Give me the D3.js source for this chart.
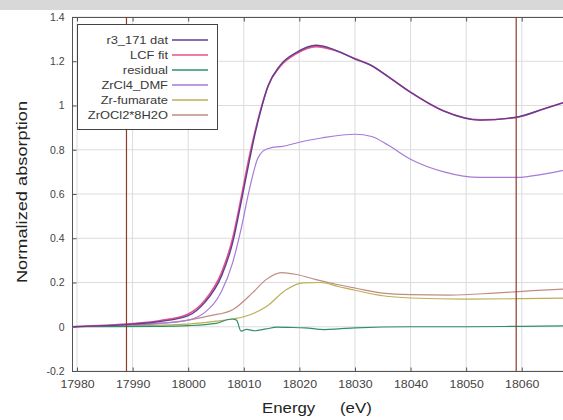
<!DOCTYPE html>
<html>
<head>
<meta charset="utf-8">
<script src="https://cdn.jsdelivr.net/npm/d3@7"></script>
<style>
  html, body { margin: 0; padding: 0; background: #fff; }
  svg { display: block; }
  text { font-family: "Liberation Sans", Arial, sans-serif; }
</style>
</head>
<body>
<svg id="chart" width="563" height="420"></svg>
<script>
// ---------- data ----------
const xTicks = [17980, 17990, 18000, 18010, 18020, 18030, 18040, 18050, 18060];
const yTicks = [-0.2, 0, 0.2, 0.4, 0.6, 0.8, 1, 1.2, 1.4];
const yTickLabels = ["-0.2", "0", "0.2", "0.4", "0.6", "0.8", "1", "1.2", "1.4"];
const markerLines = [17988.9, 18059.0];

const seriesNames = ["r3_171 dat", "LCF fit", "residual", "ZrCl4_DMF", "Zr-fumarate", "ZrOCl2*8H2O"];
const seriesColors = ["#5e3f92", "#e8508c", "#2f9068", "#a77ad8", "#bcae55", "#c08c84"];

const dataE = [17979, 17985, 17990, 17995, 18000, 18003, 18006, 18008, 18009.5, 18011, 18012, 18013.3, 18014.4, 18016.5, 18019.5, 18023, 18026, 18030, 18033, 18036, 18040, 18046, 18052.5, 18059, 18064, 18069];
const dataV = [0.0, 0.005, 0.012, 0.024, 0.05, 0.11, 0.23, 0.38, 0.56, 0.75, 0.87, 1.0, 1.09, 1.18, 1.24, 1.272, 1.255, 1.21, 1.18, 1.13, 1.06, 0.975, 0.934, 0.947, 0.985, 1.025];
const fitV  = [0.0, 0.006, 0.014, 0.028, 0.058, 0.12, 0.245, 0.40, 0.58, 0.77, 0.88, 1.005, 1.09, 1.175, 1.235, 1.266, 1.252, 1.212, 1.18, 1.13, 1.06, 0.975, 0.935, 0.946, 0.985, 1.025];

const zrcl4E = [17979, 17990, 17995, 18000, 18003, 18006, 18008, 18009.5, 18011, 18012.5, 18013.5, 18015, 18017, 18020, 18024, 18030, 18033, 18036, 18040, 18046, 18052.5, 18059, 18064, 18069];
const zrcl4V = [0.0, 0.008, 0.015, 0.03, 0.065, 0.16, 0.29, 0.44, 0.62, 0.76, 0.795, 0.81, 0.815, 0.834, 0.853, 0.87, 0.86, 0.82, 0.757, 0.70, 0.675, 0.675, 0.69, 0.715];

const fumE = [17979, 17990, 18000, 18005, 18008, 18010, 18014, 18017.7, 18020.6, 18023.7, 18027, 18030, 18035, 18040, 18050, 18060, 18069];
const fumV = [0, 0.005, 0.012, 0.025, 0.035, 0.045, 0.09, 0.168, 0.198, 0.2, 0.182, 0.165, 0.14, 0.13, 0.125, 0.127, 0.13];

const zroclE = [17979, 17990, 17995, 18000, 18004, 18008, 18011.6, 18014, 18016.8, 18019.5, 18023, 18027, 18030, 18035, 18040, 18047, 18055, 18062, 18069];
const zroclV = [0, 0.008, 0.015, 0.03, 0.05, 0.077, 0.154, 0.213, 0.245, 0.236, 0.213, 0.19, 0.175, 0.152, 0.145, 0.143, 0.152, 0.163, 0.172];

const resE = [17979, 17995, 18000, 18005, 18007.8, 18008.7, 18009.5, 18010.5, 18012, 18014, 18016, 18018, 18021, 18024.5, 18027, 18030, 18040, 18050, 18060, 18069];
const resV = [0, 0.002, 0.005, 0.015, 0.035, 0.03, -0.02, -0.012, -0.018, -0.01, -0.002, -0.003, -0.005, -0.013, -0.01, -0.005, 0, 0, 0.002, 0.004];

// ---------- layout ----------
const svg = d3.select("#chart");
const mLeft = 72, mTop = 17, mBottom = 371, mRight = 569;
const x = d3.scaleLinear().domain([17979.1, 18068.5]).range([mLeft, mRight]);
const y = d3.scaleLinear().domain([-0.2, 1.4]).range([mBottom, mTop]);

function stretch(sel, factor) {
  sel.each(function () {
    const len = this.getComputedTextLength();
    d3.select(this).attr("textLength", len * factor).attr("lengthAdjust", "spacingAndGlyphs");
  });
}

// gray band at top
svg.append("rect").attr("x", 0).attr("y", 0).attr("width", 563).attr("height", 10).attr("fill", "#d8d8d8");

svg.append("defs").append("clipPath").attr("id", "plotclip")
  .append("rect").attr("x", mLeft).attr("y", mTop).attr("width", mRight - mLeft).attr("height", mBottom - mTop);

// grid
const grid = svg.append("g");
grid.selectAll("line.vg").data(xTicks).join("line")
  .attr("x1", d => x(d)).attr("x2", d => x(d)).attr("y1", mTop).attr("y2", mBottom)
  .attr("stroke", "#dcdcdc").attr("stroke-width", 1);
grid.selectAll("line.hg").data(yTicks).join("line")
  .attr("x1", mLeft).attr("x2", mRight).attr("y1", d => y(d)).attr("y2", d => y(d))
  .attr("stroke", "#dcdcdc").attr("stroke-width", 1);

// axes frame
const frame = svg.append("g").attr("stroke", "#555").attr("stroke-width", 1).attr("fill", "none");
frame.append("line").attr("x1", mLeft + 0.5).attr("x2", mLeft + 0.5).attr("y1", mTop).attr("y2", mBottom + 0.5);
frame.append("line").attr("x1", mLeft).attr("x2", 563).attr("y1", mTop + 0.5).attr("y2", mTop + 0.5);
frame.append("line").attr("x1", mLeft).attr("x2", 563).attr("y1", mBottom + 0.5).attr("y2", mBottom + 0.5);

// axes via d3
const xAxis = d3.axisBottom(x).tickValues(xTicks).tickSize(-4).tickPadding(9).tickFormat(d3.format("d"));
const gx = svg.append("g").attr("transform", `translate(0,${mBottom + 0.5})`).call(xAxis);
gx.select(".domain").remove();
gx.selectAll(".tick line").attr("stroke", "#555");
gx.selectAll("text").attr("font-size", 11).attr("fill", "#444");
stretch(gx.selectAll("text"), 1.12);

const xTopAxis = d3.axisTop(x).tickValues(xTicks).tickSize(-4).tickFormat("");
const gxt = svg.append("g").attr("transform", `translate(0,${mTop + 0.5})`).call(xTopAxis);
gxt.select(".domain").remove();
gxt.selectAll(".tick line").attr("stroke", "#555");

const yAxis = d3.axisLeft(y).tickValues(yTicks).tickSize(-4).tickPadding(8)
  .tickFormat((d, i) => yTickLabels[i]);
const gy = svg.append("g").attr("transform", `translate(${mLeft + 0.5},0)`).call(yAxis);
gy.select(".domain").remove();
gy.selectAll(".tick line").attr("stroke", "#555");
gy.selectAll("text").attr("font-size", 10.5).attr("fill", "#444");

// lines
const plot = svg.append("g").attr("clip-path", "url(#plotclip)");
const mk = (E, V) => E.map((e, i) => [e, V[i]]);
const line = d3.line().x(d => x(d[0])).y(d => y(d[1])).curve(d3.curveMonotoneX);

const series = [
  { pts: mk(zroclE, zroclV), color: seriesColors[5], w: 1.2 },
  { pts: mk(fumE, fumV), color: seriesColors[4], w: 1.2 },
  { pts: mk(zrcl4E, zrcl4V), color: seriesColors[3], w: 1.2 },
  { pts: mk(resE, resV), color: seriesColors[2], w: 1.2 },
  { pts: mk(dataE, fitV), color: seriesColors[1], w: 1.6 },
  { pts: mk(dataE, dataV), color: seriesColors[0], w: 1.4 }
];
plot.selectAll("path.s").data(series).join("path")
  .attr("d", d => line(d.pts)).attr("fill", "none")
  .attr("stroke", d => d.color).attr("stroke-width", d => d.w);

// marker vertical lines
plot.selectAll("line.m").data(markerLines).join("line")
  .attr("x1", d => x(d)).attr("x2", d => x(d)).attr("y1", mTop).attr("y2", mBottom)
  .attr("stroke", "#8e3a2c").attr("stroke-width", 1.2);

// legend
const lg = svg.append("g");
lg.append("rect").attr("x", 77.5).attr("y", 24.5).attr("width", 140).attr("height", 105)
  .attr("fill", "#fff").attr("stroke", "#444").attr("stroke-width", 1);
seriesNames.forEach((name, i) => {
  const yy = 40 + i * 15;
  const t = lg.append("text").attr("x", 168).attr("y", yy).attr("dy", "0.35em")
    .attr("text-anchor", "end").attr("font-size", 11.5).attr("fill", "#3a3a3a").text(name);
  stretch(t, 1.12);
  lg.append("line").attr("x1", 172).attr("x2", 208).attr("y1", yy).attr("y2", yy)
    .attr("stroke", seriesColors[i]).attr("stroke-width", 1.4);
});

// axis titles
const xt1 = svg.append("text").attr("x", 262).attr("y", 413).attr("text-anchor", "start")
  .attr("font-size", 14).attr("fill", "#222").text("Energy");
stretch(xt1, 1.2);
const xt2 = svg.append("text").attr("x", 340).attr("y", 413).attr("text-anchor", "start")
  .attr("font-size", 14).attr("fill", "#222").text("(eV)");
stretch(xt2, 1.2);
const yt = svg.append("text").attr("transform", "translate(27,192) rotate(-90)").attr("text-anchor", "middle")
  .attr("font-size", 14).attr("fill", "#222").text("Normalized absorption");
stretch(yt, 1.3);
</script>
</body>
</html>
